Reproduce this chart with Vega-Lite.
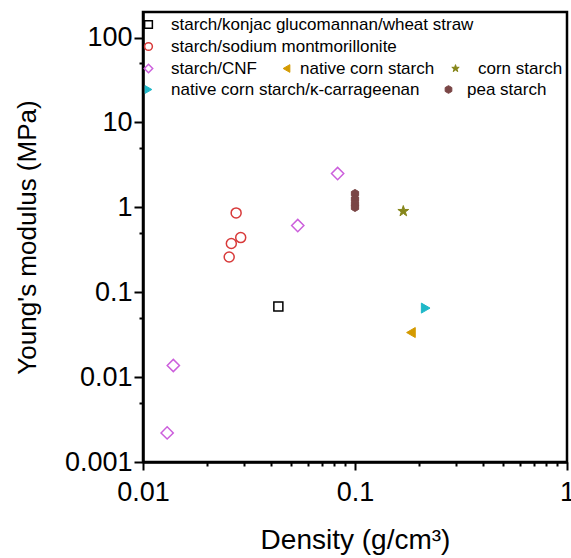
{
  "$schema": "https://vega.github.io/schema/vega-lite/v6.json",
  "autosize": "none",
  "padding": {"left": 143, "top": 12, "right": 4, "bottom": 96},
  "width": 424,
  "height": 450,
  "background": "white",
  "config": {
    "view": {"stroke": "black", "strokeWidth": 2.5}
  },
  "data": {
    "values": [
      {"series": "starch/konjac glucomannan/wheat straw", "density": 0.0435, "modulus": 0.068},
      {"series": "starch/sodium montmorillonite", "density": 0.0275, "modulus": 0.86},
      {"series": "starch/sodium montmorillonite", "density": 0.0289, "modulus": 0.44},
      {"series": "starch/sodium montmorillonite", "density": 0.0261, "modulus": 0.375},
      {"series": "starch/sodium montmorillonite", "density": 0.0255, "modulus": 0.26},
      {"series": "starch/CNF", "density": 0.0828, "modulus": 2.5},
      {"series": "starch/CNF", "density": 0.0537, "modulus": 0.61},
      {"series": "starch/CNF", "density": 0.0139, "modulus": 0.0137},
      {"series": "starch/CNF", "density": 0.0130, "modulus": 0.0022},
      {"series": "native corn starch", "density": 0.1836, "modulus": 0.0335},
      {"series": "corn starch", "density": 0.169, "modulus": 0.9},
      {"series": "native corn starch/κ-carrageenan", "density": 0.2155, "modulus": 0.065},
      {"series": "pea starch", "density": 0.1, "modulus": 1.45},
      {"series": "pea starch", "density": 0.1, "modulus": 1.25},
      {"series": "pea starch", "density": 0.1, "modulus": 1.1},
      {"series": "pea starch", "density": 0.1, "modulus": 1.0}
    ]
  },
  "encoding": {
    "x": {"field": "density", "type": "quantitative", "scale": {"type": "log", "domain": [0.01, 1], "nice": false},
      "axis": {"title": "Density (g/cm³)", "titlePadding": 21, "values": [0.01,0.02,0.03,0.04,0.05,0.06,0.07,0.08,0.09,0.1,0.2,0.3,0.4,0.5,0.6,0.7,0.8,0.9,1],
        "labelExpr": "abs(log(datum.value)/LN10 - round(log(datum.value)/LN10)) < 0.01 ? format(datum.value, '~g') : ''",
        "tickSize": {"condition": {"test": "abs(log(datum.value)/LN10 - round(log(datum.value)/LN10)) < 0.01", "value": 8}, "value": 4},
        "grid": false, "domainColor": "black", "domainWidth": 2.5, "tickColor": "black", "tickWidth": 2,
        "labelColor": "black", "titleColor": "black", "labelFont": "Liberation Sans", "titleFont": "Liberation Sans", "titleFontWeight": "normal",
        "labelFontSize": 27, "titleFontSize": 28, "labelOverlap": false, "labelFlush": false, "labelBound": false, "labelPadding": 9}},
    "y": {"field": "modulus", "type": "quantitative", "scale": {"type": "log", "domain": [0.001, 200], "nice": false},
      "axis": {"title": "Young's modulus (MPa)", "titlePadding": 24, "values": [0.001,0.005,0.01,0.05,0.1,0.5,1,5,10,50,100],
        "labelExpr": "abs(log(datum.value)/LN10 - round(log(datum.value)/LN10)) < 0.01 ? format(datum.value, '~g') : ''",
        "tickSize": {"condition": {"test": "abs(log(datum.value)/LN10 - round(log(datum.value)/LN10)) < 0.01", "value": 9}, "value": 4},
        "grid": false, "domainColor": "black", "domainWidth": 2.5, "tickColor": "black", "tickWidth": 2,
        "labelColor": "black", "titleColor": "black", "labelFont": "Liberation Sans", "titleFont": "Liberation Sans", "titleFontWeight": "normal",
        "labelFontSize": 27, "titleFontSize": 26, "labelOverlap": false, "labelBound": false, "labelPadding": 2}}
  },
  "layer": [
    {
      "transform": [{"filter": "datum.series === 'starch/konjac glucomannan/wheat straw'"}],
      "mark": {"type": "point", "filled": true, "size": 81, "strokeWidth": 1.5, "opacity": 1},
      "encoding": {
        "shape": {"field": "series", "type": "nominal", "scale": {"range": ["square"]}, "legend": {"orient": "none", "legendX": -3, "legendY": 4, "title": null, "padding": 0, "labelFont": "Liberation Sans", "labelFontSize": 17, "labelColor": "black", "labelLimit": 400, "labelOffset": 14, "symbolSize": 60, "symbolStrokeWidth": 1.5}},
        "fill": {"field": "series", "type": "nominal", "scale": {"range": ["white"]}, "legend": {"orient": "none", "legendX": -3, "legendY": 4, "title": null, "padding": 0, "labelFont": "Liberation Sans", "labelFontSize": 17, "labelColor": "black", "labelLimit": 400, "labelOffset": 14, "symbolSize": 60, "symbolStrokeWidth": 1.5}},
        "stroke": {"field": "series", "type": "nominal", "scale": {"range": ["black"]}, "legend": {"orient": "none", "legendX": -3, "legendY": 4, "title": null, "padding": 0, "labelFont": "Liberation Sans", "labelFontSize": 17, "labelColor": "black", "labelLimit": 400, "labelOffset": 14, "symbolSize": 60, "symbolStrokeWidth": 1.5}}
      }
    },
    {
      "transform": [{"filter": "datum.series === 'starch/sodium montmorillonite'"}],
      "mark": {"type": "point", "filled": true, "size": 100, "strokeWidth": 1.5, "opacity": 1},
      "encoding": {
        "shape": {"field": "series", "type": "nominal", "scale": {"range": ["circle"]}, "legend": {"orient": "none", "legendX": -3, "legendY": 26, "title": null, "padding": 0, "labelFont": "Liberation Sans", "labelFontSize": 17, "labelColor": "black", "labelLimit": 400, "labelOffset": 14, "symbolSize": 60, "symbolStrokeWidth": 1.5}},
        "fill": {"field": "series", "type": "nominal", "scale": {"range": ["white"]}, "legend": {"orient": "none", "legendX": -3, "legendY": 26, "title": null, "padding": 0, "labelFont": "Liberation Sans", "labelFontSize": 17, "labelColor": "black", "labelLimit": 400, "labelOffset": 14, "symbolSize": 60, "symbolStrokeWidth": 1.5}},
        "stroke": {"field": "series", "type": "nominal", "scale": {"range": ["#d83a3a"]}, "legend": {"orient": "none", "legendX": -3, "legendY": 26, "title": null, "padding": 0, "labelFont": "Liberation Sans", "labelFontSize": 17, "labelColor": "black", "labelLimit": 400, "labelOffset": 14, "symbolSize": 60, "symbolStrokeWidth": 1.5}}
      }
    },
    {
      "transform": [{"filter": "datum.series === 'starch/CNF'"}],
      "mark": {"type": "point", "filled": true, "size": 150, "strokeWidth": 1.5, "opacity": 1},
      "encoding": {
        "shape": {"field": "series", "type": "nominal", "scale": {"range": ["diamond"]}, "legend": {"orient": "none", "legendX": -3, "legendY": 48, "title": null, "padding": 0, "labelFont": "Liberation Sans", "labelFontSize": 17, "labelColor": "black", "labelLimit": 400, "labelOffset": 14, "symbolSize": 70, "symbolStrokeWidth": 1.5}},
        "fill": {"field": "series", "type": "nominal", "scale": {"range": ["white"]}, "legend": {"orient": "none", "legendX": -3, "legendY": 48, "title": null, "padding": 0, "labelFont": "Liberation Sans", "labelFontSize": 17, "labelColor": "black", "labelLimit": 400, "labelOffset": 14, "symbolSize": 70, "symbolStrokeWidth": 1.5}},
        "stroke": {"field": "series", "type": "nominal", "scale": {"range": ["#cc5fdc"]}, "legend": {"orient": "none", "legendX": -3, "legendY": 48, "title": null, "padding": 0, "labelFont": "Liberation Sans", "labelFontSize": 17, "labelColor": "black", "labelLimit": 400, "labelOffset": 14, "symbolSize": 70, "symbolStrokeWidth": 1.5}}
      }
    },
    {
      "transform": [{"filter": "datum.series === 'native corn starch'"}],
      "mark": {"type": "point", "filled": true, "size": 100, "strokeWidth": 1, "opacity": 1},
      "encoding": {
        "shape": {"field": "series", "type": "nominal", "scale": {"range": ["triangle-left"]}, "legend": {"orient": "none", "legendX": 135, "legendY": 48, "title": null, "padding": 0, "labelFont": "Liberation Sans", "labelFontSize": 17, "labelColor": "black", "labelLimit": 400, "labelOffset": 5, "symbolSize": 60, "symbolStrokeWidth": 1}},
        "fill": {"field": "series", "type": "nominal", "scale": {"range": ["#d49a00"]}, "legend": {"orient": "none", "legendX": 135, "legendY": 48, "title": null, "padding": 0, "labelFont": "Liberation Sans", "labelFontSize": 17, "labelColor": "black", "labelLimit": 400, "labelOffset": 5, "symbolSize": 60, "symbolStrokeWidth": 1}},
        "stroke": {"field": "series", "type": "nominal", "scale": {"range": ["#d49a00"]}, "legend": {"orient": "none", "legendX": 135, "legendY": 48, "title": null, "padding": 0, "labelFont": "Liberation Sans", "labelFontSize": 17, "labelColor": "black", "labelLimit": 400, "labelOffset": 5, "symbolSize": 60, "symbolStrokeWidth": 1}}
      }
    },
    {
      "transform": [{"filter": "datum.series === 'corn starch'"}],
      "mark": {"type": "point", "filled": true, "size": 130, "strokeWidth": 1, "opacity": 1},
      "encoding": {
        "shape": {"field": "series", "type": "nominal", "scale": {"range": ["M0,-1L0.2245,-0.309L0.951,-0.309L0.3633,0.118L0.5878,0.809L0,0.382L-0.5878,0.809L-0.3633,0.118L-0.951,-0.309L-0.2245,-0.309Z"]}, "legend": {"orient": "none", "legendX": 304, "legendY": 48, "title": null, "padding": 0, "labelFont": "Liberation Sans", "labelFontSize": 17, "labelColor": "black", "labelLimit": 400, "labelOffset": 14, "symbolSize": 60, "symbolStrokeWidth": 1}},
        "fill": {"field": "series", "type": "nominal", "scale": {"range": ["#86861a"]}, "legend": {"orient": "none", "legendX": 304, "legendY": 48, "title": null, "padding": 0, "labelFont": "Liberation Sans", "labelFontSize": 17, "labelColor": "black", "labelLimit": 400, "labelOffset": 14, "symbolSize": 60, "symbolStrokeWidth": 1}},
        "stroke": {"field": "series", "type": "nominal", "scale": {"range": ["#86861a"]}, "legend": {"orient": "none", "legendX": 304, "legendY": 48, "title": null, "padding": 0, "labelFont": "Liberation Sans", "labelFontSize": 17, "labelColor": "black", "labelLimit": 400, "labelOffset": 14, "symbolSize": 60, "symbolStrokeWidth": 1}}
      }
    },
    {
      "transform": [{"filter": "datum.series === 'native corn starch/κ-carrageenan'"}],
      "mark": {"type": "point", "filled": true, "size": 100, "strokeWidth": 1, "opacity": 1},
      "encoding": {
        "shape": {"field": "series", "type": "nominal", "scale": {"range": ["triangle-right"]}, "legend": {"orient": "none", "legendX": -3, "legendY": 69, "title": null, "padding": 0, "labelFont": "Liberation Sans", "labelFontSize": 17, "labelColor": "black", "labelLimit": 400, "labelOffset": 14, "symbolSize": 60, "symbolStrokeWidth": 1}},
        "fill": {"field": "series", "type": "nominal", "scale": {"range": ["#1fb8c8"]}, "legend": {"orient": "none", "legendX": -3, "legendY": 69, "title": null, "padding": 0, "labelFont": "Liberation Sans", "labelFontSize": 17, "labelColor": "black", "labelLimit": 400, "labelOffset": 14, "symbolSize": 60, "symbolStrokeWidth": 1}},
        "stroke": {"field": "series", "type": "nominal", "scale": {"range": ["#1fb8c8"]}, "legend": {"orient": "none", "legendX": -3, "legendY": 69, "title": null, "padding": 0, "labelFont": "Liberation Sans", "labelFontSize": 17, "labelColor": "black", "labelLimit": 400, "labelOffset": 14, "symbolSize": 60, "symbolStrokeWidth": 1}}
      }
    },
    {
      "transform": [{"filter": "datum.series === 'pea starch'"}],
      "mark": {"type": "point", "filled": true, "size": 70, "strokeWidth": 1, "opacity": 1},
      "encoding": {
        "shape": {"field": "series", "type": "nominal", "scale": {"range": ["M0,-1L0.866,-0.5L0.866,0.5L0,1L-0.866,0.5L-0.866,-0.5Z"]}, "legend": {"orient": "none", "legendX": 297, "legendY": 69, "title": null, "padding": 0, "labelFont": "Liberation Sans", "labelFontSize": 17, "labelColor": "black", "labelLimit": 400, "labelOffset": 10, "symbolSize": 60, "symbolStrokeWidth": 1}},
        "fill": {"field": "series", "type": "nominal", "scale": {"range": ["#7a4646"]}, "legend": {"orient": "none", "legendX": 297, "legendY": 69, "title": null, "padding": 0, "labelFont": "Liberation Sans", "labelFontSize": 17, "labelColor": "black", "labelLimit": 400, "labelOffset": 10, "symbolSize": 60, "symbolStrokeWidth": 1}},
        "stroke": {"field": "series", "type": "nominal", "scale": {"range": ["#7a4646"]}, "legend": {"orient": "none", "legendX": 297, "legendY": 69, "title": null, "padding": 0, "labelFont": "Liberation Sans", "labelFontSize": 17, "labelColor": "black", "labelLimit": 400, "labelOffset": 10, "symbolSize": 60, "symbolStrokeWidth": 1}}
      }
    }
  ],
  "resolve": {"scale": {"shape": "independent", "fill": "independent", "stroke": "independent"}}
}
